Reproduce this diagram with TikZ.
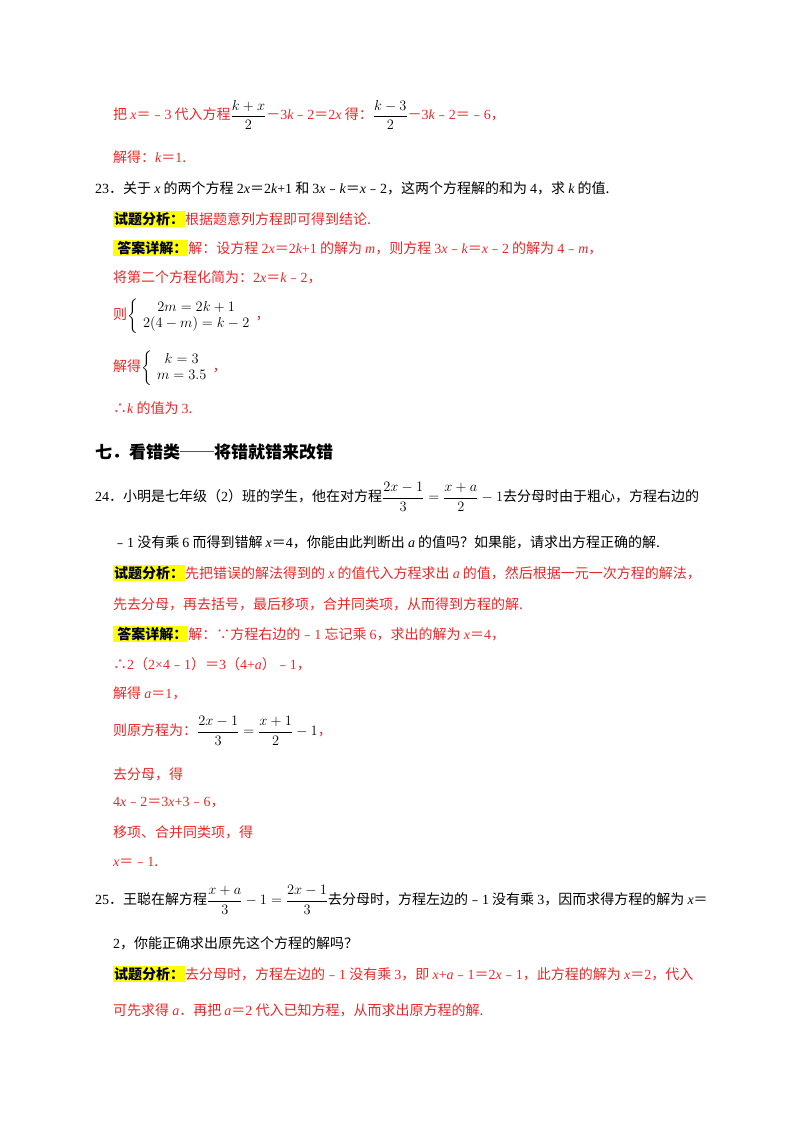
\documentclass[tikz,border=0pt]{standalone}
\usepackage{fontspec}
\usepackage{amsmath}
\setmainfont{Noto Sans CJK SC}
\newfontfamily\lt{Liberation Serif}
\newcommand\vv[1]{{\lt\itshape #1}}
\newcommand\nn[1]{{\lt #1}}
\newcommand\mm[1]{{\color{black}$#1$}}
\definecolor{rd}{RGB}{232,40,40}
\definecolor{hy}{RGB}{255,255,0}
\newcommand\hl[1]{{\setlength\fboxsep{1pt}\colorbox{hy}{\color{black!85!blue}\bfseries #1}}}
\tikzset{t/.style={anchor=west,inner sep=0pt,font=\fontsize{14}{16}\selectfont},r/.style={t,text=rd},b/.style={t,text=black}}
\begin{document}
\begin{tikzpicture}[x=1pt,y=-1pt]
\useasboundingbox (0,0) rectangle (800,1132);
\node[r] (l1) at (113,115) {把 \vv{x}＝﹣\nn{3} 代入方程\mm{\dfrac{k+x}{2}}－\nn{3}\vv{k}﹣\nn{2}＝\nn{2}\vv{x} 得：\mm{\dfrac{k-3}{2}}－\nn{3}\vv{k}﹣\nn{2}＝﹣\nn{6}，};
\node[r] (l2) at (113,157) {解得：\vv{k}＝\nn{1}.};
\node[b] (l3) at (95,188) {\nn{23}．关于 \vv{x} 的两个方程 \nn{2}\vv{x}＝\nn{2}\vv{k}\nn{+1} 和 \nn{3}\vv{x}﹣\vv{k}＝\vv{x}﹣\nn{2}，这两个方程解的和为 \nn{4}，求 \vv{k} 的值.};
\node[r] (l4) at (113,219) {\hl{试题分析：}根据题意列方程即可得到结论.};
\node[r] (l5) at (113,248) {\hl{~答案详解：}解：设方程 \nn{2}\vv{x}＝\nn{2}\vv{k}\nn{+1} 的解为 \vv{m}，则方程 \nn{3}\vv{x}﹣\vv{k}＝\vv{x}﹣\nn{2} 的解为 \nn{4}﹣\vv{m}，};
\node[r] (l6) at (113,277) {将第二个方程化简为：\nn{2}\vv{x}＝\vv{k}﹣\nn{2}，};
\node[r] (l7) at (113,316) {则\mm{\left\{\begin{array}{c}2m=2k+1\\ 2(4-m)=k-2\end{array}\right.}，};
\node[r] (l8) at (113,368) {解得\mm{\left\{\begin{array}{c}k=3\\ m=3.5\end{array}\right.}，};
\node[r] (l9) at (113,408) {∴\vv{k} 的值为 \nn{3}.};
\node[b,font=\fontsize{17}{20}\selectfont\bfseries] (h) at (95,452) {七．看错类──将错就错来改错};
\node[b] (l10) at (95,497) {\nn{24}．小明是七年级（\nn{2}）班的学生，他在对方程$\dfrac{2x-1}{3}=\dfrac{x+a}{2}-1$去分母时由于粗心，方程右边的};
\node[b] (l11) at (113,542) {﹣\nn{1} 没有乘 \nn{6} 而得到错解 \vv{x}＝\nn{4}，你能由此判断出 \vv{a} 的值吗？如果能，请求出方程正确的解.};
\node[r] (l12) at (113,573) {\hl{试题分析：}先把错误的解法得到的 \vv{x} 的值代入方程求出 \vv{a} 的值，然后根据一元一次方程的解法，};
\node[r] (l13) at (113,604) {先去分母，再去括号，最后移项，合并同类项，从而得到方程的解.};
\node[r] (l14) at (113,634) {\hl{~答案详解：}解：∵方程右边的﹣\nn{1} 忘记乘 \nn{6}，求出的解为 \vv{x}＝\nn{4}，};
\node[r] (l15) at (113,664) {∴\nn{2}（\nn{2×4}﹣\nn{1}）＝\nn{3}（\nn{4+}\vv{a}）﹣\nn{1}，};
\node[r] (l16) at (113,693) {解得 \vv{a}＝\nn{1}，};
\node[r] (l17) at (113,731) {则原方程为：\mm{\dfrac{2x-1}{3}=\dfrac{x+1}{2}-1}，};
\node[r] (l18) at (113,774) {去分母，得};
\node[r] (l19) at (113,803) {\nn{4}\vv{x}﹣\nn{2}＝\nn{3}\vv{x}\nn{+3}﹣\nn{6}，};
\node[r] (l20) at (113,832) {移项、合并同类项，得};
\node[r] (l21) at (113,862) {\vv{x}＝﹣\nn{1}.};
\node[b] (l22) at (95,900) {\nn{25}．王聪在解方程$\dfrac{x+a}{3}-1=\dfrac{2x-1}{3}$去分母时，方程左边的﹣\nn{1} 没有乘 \nn{3}，因而求得方程的解为 \vv{x}＝};
\node[b] (l23) at (113,943) {\nn{2}，你能正确求出原先这个方程的解吗？};
\node[r] (l24) at (113,974) {\hl{试题分析：}去分母时，方程左边的﹣\nn{1} 没有乘 \nn{3}，即 \vv{x}\nn{+}\vv{a}﹣\nn{1}＝\nn{2}\vv{x}﹣\nn{1}，此方程的解为 \vv{x}＝\nn{2}，代入};
\node[r] (l25) at (113,1010) {可先求得 \vv{a}．再把 \vv{a}＝\nn{2} 代入已知方程，从而求出原方程的解.};
\end{tikzpicture}
\end{document}
